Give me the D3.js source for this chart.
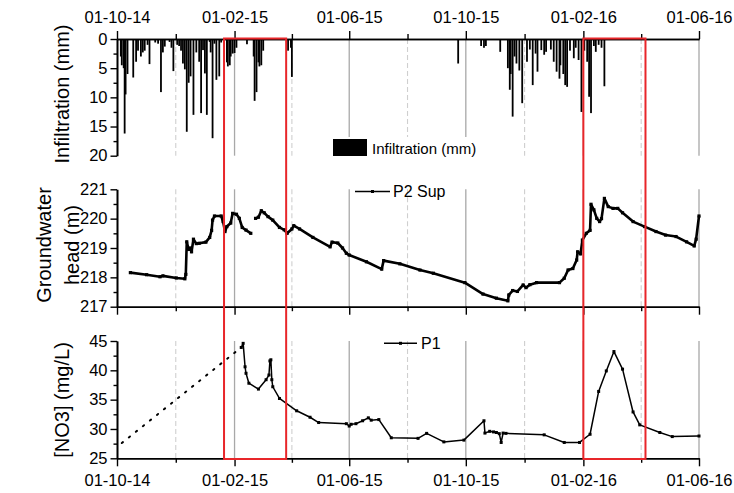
<!DOCTYPE html>
<html><head><meta charset="utf-8">
<script src="https://cdn.jsdelivr.net/npm/d3@7"></script>
<style>body{margin:0;background:#fff}svg{display:block}text{font-family:"Liberation Sans",Arial,sans-serif}</style>
</head><body><svg id="c" width="734" height="493"></svg>
<script>
// ---------------- DATA ----------------
const majorTickDates = ["2014-10-01","2015-02-01","2015-06-01","2015-10-01","2016-02-01","2016-06-01"];
const majorTickLabels = ["01-10-14","01-02-15","01-06-15","01-10-15","01-02-16","01-06-16"];
const infTicks = [0,5,10,15,20];
const gwTicks = [217,218,219,220,221];
const no3Ticks = [25,30,35,40,45];

const infDates = ["2014-10-05","2014-10-06","2014-10-08","2014-10-09","2014-10-10","2014-10-12","2014-10-18","2014-10-21","2014-10-23","2014-10-26","2014-10-28","2014-10-30","2014-11-02","2014-11-04","2014-11-10","2014-11-13","2014-11-16","2014-11-18","2014-11-20","2014-11-25","2014-11-27","2014-11-29","2014-12-03","2014-12-05","2014-12-07","2014-12-09","2014-12-11","2014-12-13","2014-12-15","2014-12-17","2014-12-20","2014-12-23","2014-12-26","2014-12-28","2014-12-30","2015-01-01","2015-01-03","2015-01-06","2015-01-07","2015-01-09","2015-01-11","2015-01-13","2015-01-16","2015-01-18","2015-01-24","2015-01-25","2015-01-27","2015-01-28","2015-01-30","2015-02-01","2015-02-03","2015-02-14","2015-02-21","2015-02-22","2015-02-24","2015-02-26","2015-02-27","2015-03-01","2015-03-03","2015-03-29","2015-04-01","2015-04-02",
"2015-09-23","2015-10-17","2015-10-20","2015-10-22","2015-11-06","2015-11-14","2015-11-16","2015-11-17","2015-11-19","2015-11-21","2015-11-23","2015-11-26","2015-11-29","2015-12-04","2015-12-07","2015-12-10","2015-12-13","2015-12-15","2015-12-19","2015-12-22","2015-12-24","2015-12-29","2016-01-01","2016-01-04","2016-01-07","2016-01-08","2016-01-11","2016-01-13","2016-01-15","2016-01-18","2016-01-22","2016-01-24","2016-01-27","2016-01-30","2016-02-02","2016-02-05","2016-02-07","2016-02-09","2016-02-12","2016-02-14","2016-02-17","2016-02-20","2016-02-23"];
const infValues = [3,4.5,5,16.2,9.5,6,6.6,3.9,2,3,2.3,2,1,4.3,0.6,0.8,9.1,2.3,1.3,0.5,1.5,5.5,1,1.2,2,4.2,5.2,15.9,7.5,6.4,13,2.3,3.9,12.7,1.9,5.9,13,0.5,2.3,17,0.8,7,6.4,0.6,4,4.7,4.5,3,2.5,2.4,1.5,0.9,3,10.6,9.1,4,4.7,4.5,2,2,1.5,6.5,
4.2,1.2,1.5,1.2,2.2,5,8.7,6,13.3,3,4.2,5.4,11,3.9,1.8,7.9,2.5,5.6,1.9,2.7,2.2,1.8,3.9,5.6,6.8,4.5,6,7.9,8.2,2,3.3,1.5,3.6,12.5,2,3.9,9.9,12.7,1.2,2.2,1,1.5,8.1];

const gwDates = ["2014-10-15","2014-11-01","2014-11-15","2014-11-18","2014-12-02","2014-12-11","2014-12-12","2014-12-13","2014-12-15","2014-12-17","2014-12-18","2014-12-20","2014-12-23","2014-12-26","2015-01-02","2015-01-06","2015-01-08","2015-01-09","2015-01-11","2015-01-18","2015-01-20","2015-01-22","2015-01-24","2015-01-28","2015-01-30","2015-02-03","2015-02-06","2015-02-09","2015-02-13","2015-02-18",null,"2015-02-23","2015-02-26","2015-03-01","2015-03-04","2015-03-08","2015-03-13","2015-03-20","2015-03-25","2015-03-28","2015-04-02","2015-04-04","2015-04-10","2015-04-24","2015-05-12","2015-05-14","2015-05-20","2015-05-25","2015-05-29","2015-06-01","2015-06-19","2015-07-05","2015-07-07","2015-07-24","2015-08-14","2015-08-28","2015-09-30","2015-10-19","2015-11-02","2015-11-14","2015-11-15","2015-11-19","2015-11-24","2015-11-30","2015-12-03","2015-12-07","2015-12-14","2016-01-07","2016-01-12","2016-01-16","2016-01-21","2016-01-25","2016-01-26","2016-01-29","2016-01-31","2016-02-04","2016-02-08","2016-02-09","2016-02-12","2016-02-15","2016-02-18","2016-02-20","2016-02-23","2016-02-27","2016-03-03","2016-03-08","2016-03-13","2016-03-24","2016-04-05","2016-04-17","2016-04-27","2016-05-08","2016-05-19","2016-05-27","2016-05-29","2016-06-01"];
const gwValues = [218.16,218.09,218.02,218.05,217.98,217.95,218.1,219.21,218.95,219.0,218.87,219.3,219.15,219.16,219.2,219.36,219.6,219.95,220.09,220.09,219.9,219.56,219.73,219.85,220.18,220.15,220.01,219.7,219.61,219.5,null,220.01,220.05,220.27,220.2,220.07,219.95,219.7,219.62,219.5,219.65,219.76,219.65,219.36,219.04,219.2,219.17,219.0,218.82,218.76,218.53,218.28,218.57,218.46,218.25,218.14,217.82,217.43,217.29,217.2,217.4,217.55,217.52,217.74,217.65,217.75,217.82,217.82,217.97,218.25,218.3,218.59,218.87,218.8,219.27,219.5,219.6,220.49,220.3,220.01,219.9,220.0,220.69,220.41,220.35,220.35,220.2,219.9,219.73,219.56,219.44,219.39,219.21,219.07,219.3,220.09];

const no3Dates = ["2015-02-08","2015-02-10","2015-02-12","2015-02-13","2015-02-16","2015-02-26","2015-03-06","2015-03-09","2015-03-10","2015-03-11","2015-03-12","2015-03-13","2015-03-20","2015-04-07","2015-04-21","2015-04-30","2015-05-29","2015-06-01","2015-06-03","2015-06-08","2015-06-15","2015-06-21","2015-06-24","2015-07-02","2015-07-15","2015-08-12","2015-08-21","2015-09-08","2015-09-29","2015-10-20","2015-10-21","2015-10-26","2015-10-30","2015-11-02","2015-11-05","2015-11-07","2015-11-09","2015-11-12","2015-12-22","2016-01-12","2016-01-28","2016-02-08","2016-02-17","2016-02-25","2016-03-04","2016-03-13","2016-03-24","2016-03-31","2016-04-21","2016-05-04","2016-06-01"];
const no3Values = [43.9,44.6,40.6,39.5,37.8,36.8,38.4,39.2,41.6,41.8,38.4,37.2,35.2,33.1,32.0,31.1,30.9,30.5,30.8,30.9,31.4,31.9,31.5,31.6,28.5,28.4,29.25,27.8,28.1,31.4,29.3,29.6,29.5,29.4,29.2,27.7,29.3,29.25,29.0,27.7,27.7,29.1,36.4,39.9,43.2,40.2,32.9,30.7,29.4,28.7,28.8];
// dotted link between the first reading and the first P1 value
const no3LinkDates = ["2014-10-06","2015-02-08"];
const no3LinkValues = [27.6,43.9];

const highlightStarts = ["2015-01-21","2016-02-01"];
const highlightEnds = ["2015-03-27","2016-04-06"];

// ---------------- DRAW ----------------
const FS = "16.5px";
const P = d3.utcParse("%Y-%m-%d");
const svg = d3.select("#c");
const x = d3.scaleUtc().domain([P("2014-10-01"), P("2016-06-01")]).range([117, 699]);
const yInf = d3.scaleLinear().domain([0,20]).range([39,155.7]);
const yGw = d3.scaleLinear().domain([217,221]).range([306.7,189.3]);
const yNo = d3.scaleLinear().domain([25,45]).range([458.3,341]);

const majors = majorTickDates.map(P);
const minors = d3.pairs(majors).map(([a,b]) => new Date((+a + +b)/2));

function grid(y0, y1) {
  const g = svg.append("g");
  g.selectAll("line.maj").data(majors.slice(1)).join("line")
    .attr("x1", d=>x(d)).attr("x2", d=>x(d)).attr("y1", y0).attr("y2", y1)
    .attr("stroke", "#a8a8a8").attr("stroke-width", 1.3);
  g.selectAll("line.min").data(minors).join("line")
    .attr("x1", d=>x(d)).attr("x2", d=>x(d)).attr("y1", y0).attr("y2", y1)
    .attr("stroke", "#cfcfcf").attr("stroke-width", 1.1).attr("stroke-dasharray", "5,3");
}
grid(yInf(0), yInf(20));
grid(yGw(221), yGw(217));
grid(yNo(45), yNo(25));

// legend background box in top panel
svg.append("rect").attr("x", 328).attr("y", 137).attr("width", 152).attr("height", 22).attr("fill", "#fff");

// infiltration bars
const inf = infDates.map((d,i)=>({d:P(d), v:infValues[i]}));
svg.append("g").selectAll("rect").data(inf).join("rect")
  .attr("x", d=>x(d.d)-0.9).attr("width", 1.8)
  .attr("y", yInf(0)).attr("height", d=>yInf(d.v)-yInf(0)).attr("fill", "#000");

// groundwater line
const gw = gwDates.map((d,i)=>({d: d?P(d):null, v: gwValues[i]}));
svg.append("path").datum(gw)
  .attr("d", d3.line().defined(d=>d.v!=null).x(d=>x(d.d)).y(d=>yGw(d.v)))
  .attr("fill","none").attr("stroke","#000").attr("stroke-width",2.6).attr("stroke-linejoin","round");
svg.append("g").selectAll("rect").data(gw.filter(d=>d.v!=null)).join("rect")
  .attr("x", d=>x(d.d)-1.6).attr("y", d=>yGw(d.v)-1.6).attr("width",3.2).attr("height",3.2).attr("fill","#000");

// NO3
const link = no3LinkDates.map((d,i)=>({d:P(d), v:no3LinkValues[i]}));
svg.append("path").datum(link)
  .attr("d", d3.line().x(d=>x(d.d)).y(d=>yNo(d.v)))
  .attr("fill","none").attr("stroke","#000").attr("stroke-width",2).attr("stroke-dasharray","1.5,7.5").attr("stroke-linecap","round");
const no3 = no3Dates.map((d,i)=>({d:P(d), v:no3Values[i]}));
svg.append("path").datum(no3)
  .attr("d", d3.line().x(d=>x(d.d)).y(d=>yNo(d.v)))
  .attr("fill","none").attr("stroke","#000").attr("stroke-width",1.5).attr("stroke-linejoin","round");
svg.append("g").selectAll("rect").data(no3).join("rect")
  .attr("x", d=>x(d.d)-1.5).attr("y", d=>yNo(d.v)-1.5).attr("width",3).attr("height",3).attr("fill","#000");

// axes
function styleAxis(g) {
  g.selectAll("path.domain").attr("stroke","#000").attr("stroke-width",1.6);
  g.selectAll("line").attr("stroke","#000").attr("stroke-width",1.4);
  g.selectAll("text").attr("font-size",FS).attr("fill","#000").attr("font-family",'"Liberation Sans",Arial,sans-serif');
}
function yAxis(y, ticks, minorStep) {
  const mins = d3.range(ticks[0]+minorStep, ticks[ticks.length-1], minorStep*2);
  svg.append("g").attr("transform","translate(117,0)")
    .call(d3.axisLeft(y).tickValues(mins).tickSize(3.5).tickSizeOuter(0).tickFormat(""))
    .call(styleAxis);
  svg.append("g").attr("transform","translate(117,0)")
    .call(d3.axisLeft(y).tickValues(ticks).tickSize(6.5).tickSizeOuter(0).tickPadding(3).tickFormat(d3.format("d")))
    .call(styleAxis);
}
yAxis(yInf, infTicks, 2.5);
yAxis(yGw, gwTicks, 0.5);
yAxis(yNo, no3Ticks, 2.5);

// top x axis (at zero line)
svg.append("g").attr("transform",`translate(0,${yInf(0)})`)
  .call(d3.axisTop(x).tickValues(minors).tickSize(5).tickSizeOuter(0).tickFormat(""))
  .call(styleAxis);
svg.append("g").attr("transform",`translate(0,${yInf(0)})`)
  .call(d3.axisTop(x).tickValues(majors).tickSize(8).tickSizeOuter(0).tickPadding(8).tickFormat((d,i)=>majorTickLabels[i]))
  .call(styleAxis);
// middle x axis
svg.append("g").attr("transform",`translate(0,${yGw(217)})`)
  .call(d3.axisBottom(x).tickValues(minors).tickSize(4.5).tickSizeOuter(0).tickFormat(""))
  .call(styleAxis);
svg.append("g").attr("transform",`translate(0,${yGw(217)})`)
  .call(d3.axisBottom(x).tickValues(majors).tickSize(8).tickSizeOuter(0).tickFormat(""))
  .call(styleAxis);
// bottom x axis
svg.append("g").attr("transform",`translate(0,${yNo(25)})`)
  .call(d3.axisBottom(x).tickValues(minors).tickSize(4.5).tickSizeOuter(0).tickFormat(""))
  .call(styleAxis);
svg.append("g").attr("transform",`translate(0,${yNo(25)})`)
  .call(d3.axisBottom(x).tickValues(majors).tickSize(8).tickSizeOuter(0).tickPadding(8).tickFormat((d,i)=>majorTickLabels[i]))
  .call(styleAxis);

// axis titles
function vtitle(txt, cx, cy) {
  svg.append("text").attr("transform",`translate(${cx},${cy}) rotate(-90)`)
    .attr("text-anchor","middle").attr("dominant-baseline","central")
    .attr("font-size","20px").attr("fill","#000").text(txt);
}
vtitle("Infiltration (mm)", 62, 94);
vtitle("Groundwater", 44, 245);
vtitle("head (m)", 72, 245);
vtitle("[NO3] (mg/L)", 62, 400);

// legends
svg.append("rect").attr("x",333).attr("y",139).attr("width",34).attr("height",17).attr("fill","#000");
svg.append("text").attr("x",372).attr("y",153.5).attr("font-size","15px").text("Infiltration (mm)");

svg.append("line").attr("x1",355).attr("x2",390).attr("y1",191.5).attr("y2",191.5).attr("stroke","#000").attr("stroke-width",1.6);
svg.append("rect").attr("x",371).attr("y",190).attr("width",3).attr("height",3).attr("fill","#000");
svg.append("text").attr("x",393).attr("y",197).attr("font-size","16px").text("P2 Sup");

svg.append("line").attr("x1",384).attr("x2",417).attr("y1",343.3).attr("y2",343.3).attr("stroke","#000").attr("stroke-width",1.6);
svg.append("rect").attr("x",399).attr("y",341.8).attr("width",3).attr("height",3).attr("fill","#000");
svg.append("text").attr("x",421).attr("y",349).attr("font-size","16px").text("P1");

// highlight rectangles
svg.append("g").selectAll("rect").data(highlightStarts.map((s,i)=>[P(s),P(highlightEnds[i])])).join("rect")
  .attr("x", d=>x(d[0])).attr("width", d=>x(d[1])-x(d[0]))
  .attr("y", yInf(0)-0.5).attr("height", yNo(25)-yInf(0)+1.2)
  .attr("fill","none").attr("stroke","#e8262a").attr("stroke-width",2);
</script></body></html>
